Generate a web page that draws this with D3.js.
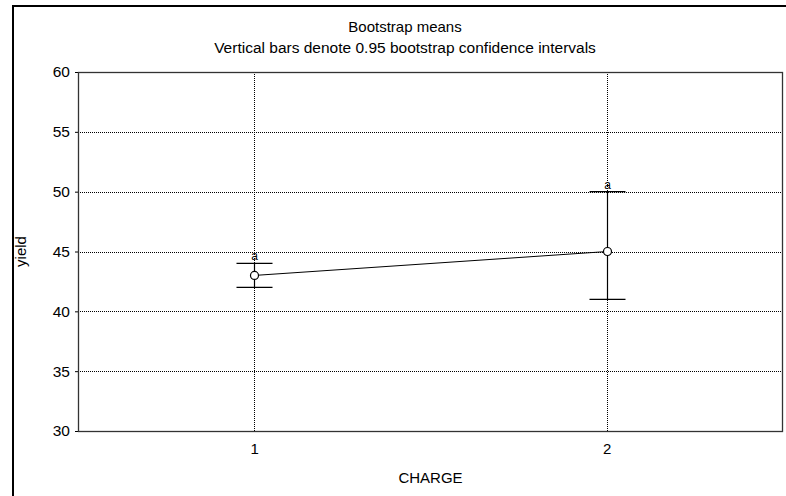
<!DOCTYPE html>
<html>
<head>
<meta charset="utf-8">
<script src="https://cdn.jsdelivr.net/npm/d3@7"></script>
<style>
  html, body { margin: 0; padding: 0; background: #fff; }
  svg text { font-family: "Liberation Sans", Arial, sans-serif; fill: #000; }
</style>
</head>
<body>
<svg id="chart" width="786" height="496"></svg>
<script>
// Bootstrap means with 0.95 confidence intervals per CHARGE level
const categories = ["1", "2"];
const means = [43, 45];
const lower = [42, 41];
const upper = [44, 50];
const groupLetters = ["a", "a"];
const yTicks = [30, 35, 40, 45, 50, 55, 60];

const svg = d3.select("#chart");
const margin = { left: 78, top: 72, right: 3, bottom: 65 };
const W = 786, H = 496;
const plotW = W - margin.left - margin.right;
const plotH = H - margin.top - margin.bottom;
const font = "Liberation Sans, Arial, sans-serif";

// outer frame (runs off the right and bottom edges)
svg.append("rect")
  .attr("x", 13).attr("y", 6)
  .attr("width", 800).attr("height", 520)
  .attr("fill", "none").attr("stroke", "#000").attr("stroke-width", 2);

const x = d3.scalePoint().domain(categories).range([0, plotW]).padding(0.5);
const y = d3.scaleLinear().domain([30, 60]).range([plotH, 0]);

const g = svg.append("g").attr("transform", `translate(${margin.left},${margin.top})`);

// grid lines
g.append("g").selectAll("line").data(yTicks.slice(1, -1)).join("line")
  .attr("x1", 0).attr("x2", plotW)
  .attr("y1", d => Math.round(y(d)) + 0.5).attr("y2", d => Math.round(y(d)) + 0.5)
  .attr("stroke", "#000").attr("stroke-width", 1).attr("stroke-dasharray", "1,1");
g.append("g").selectAll("line").data(categories).join("line")
  .attr("x1", d => Math.round(x(d)) + 0.5).attr("x2", d => Math.round(x(d)) + 0.5)
  .attr("y1", 0).attr("y2", plotH)
  .attr("stroke", "#000").attr("stroke-width", 1).attr("stroke-dasharray", "1,1");

// y axis
const yAxis = d3.axisLeft(y).tickValues(yTicks).tickSize(3).tickPadding(5);
const ya = g.append("g").call(yAxis);
ya.select(".domain").remove();
ya.selectAll("text").style("font-size", "15.5px").style("font-family", font);
ya.selectAll("line").attr("stroke", "#000");

// x axis labels
const xAxis = d3.axisBottom(x).tickSize(0).tickPadding(12);
const xa = g.append("g").attr("transform", `translate(0,${plotH})`).call(xAxis);
xa.select(".domain").remove();
xa.selectAll("text").style("font-size", "15px").style("font-family", font);

// plot box
g.append("rect").attr("x", 0.5).attr("y", 0.5)
  .attr("width", plotW - 1).attr("height", plotH)
  .attr("fill", "none").attr("stroke", "#333").attr("stroke-width", 1.3);

// error bars
const capHalf = 18;
const eb = g.append("g");
categories.forEach((c, i) => {
  const cx = Math.round(x(c)) + 0.5;
  eb.append("line").attr("x1", cx).attr("x2", cx)
    .attr("y1", y(lower[i])).attr("y2", y(upper[i]))
    .attr("stroke", "#000").attr("stroke-width", 1.2);
  [lower[i], upper[i]].forEach(v => {
    eb.append("line").attr("x1", cx - capHalf).attr("x2", cx + capHalf)
      .attr("y1", y(v)).attr("y2", y(v))
      .attr("stroke", "#000").attr("stroke-width", 1.2);
  });
  eb.append("text").attr("x", cx).attr("y", y(upper[i]) - 3)
    .attr("text-anchor", "middle").style("font-size", "12px").text(groupLetters[i]);
});

// mean line and markers
const line = d3.line().x((d, i) => Math.round(x(categories[i])) + 0.5).y(d => y(d));
g.append("path").datum(means).attr("d", line)
  .attr("fill", "none").attr("stroke", "#000").attr("stroke-width", 1);
g.append("g").selectAll("circle").data(means).join("circle")
  .attr("cx", (d, i) => Math.round(x(categories[i])) + 0.5)
  .attr("cy", d => y(d)).attr("r", 4)
  .attr("fill", "#fff").attr("stroke", "#000").attr("stroke-width", 1.2);

// titles
const titleX = 405;
svg.append("text").attr("x", titleX).attr("y", 32).attr("text-anchor", "middle")
  .style("font-size", "15px").text("Bootstrap means");
svg.append("text").attr("x", titleX).attr("y", 53).attr("text-anchor", "middle")
  .style("font-size", "15.5px").text("Vertical bars denote 0.95 bootstrap confidence intervals");
svg.append("text").attr("x", margin.left + plotW / 2).attr("y", 483).attr("text-anchor", "middle")
  .style("font-size", "15px").text("CHARGE");
svg.append("text").attr("transform", `translate(26,${margin.top + plotH / 2}) rotate(-90)`)
  .attr("text-anchor", "middle").style("font-size", "15px").text("yield");
</script>
</body>
</html>
